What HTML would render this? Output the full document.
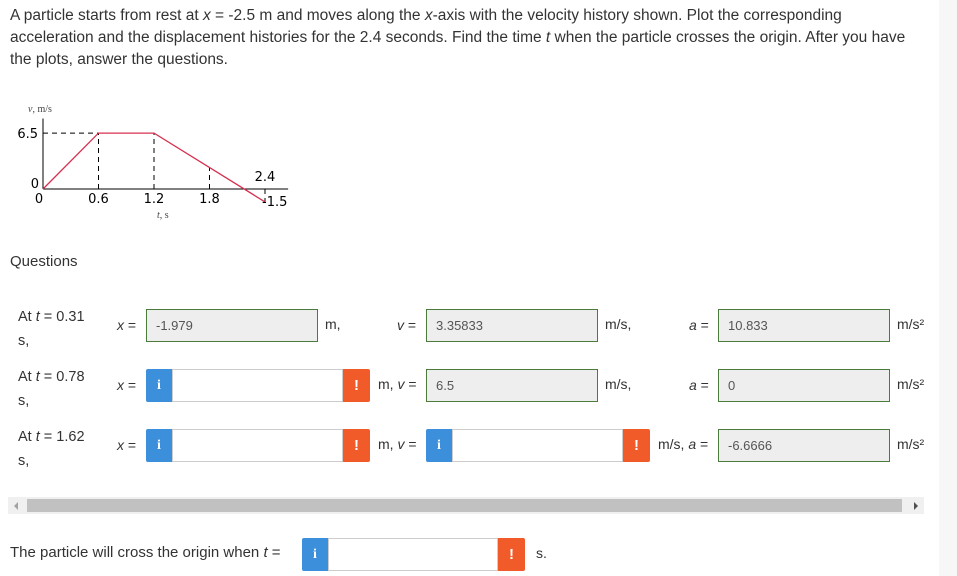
<!DOCTYPE html>
<html><head><meta charset="utf-8"><style>
body{margin:0;width:957px;height:576px;background:#fff;font-family:"Liberation Sans",sans-serif;color:#333;position:relative;overflow:hidden}
.a{position:absolute;white-space:nowrap}
.p{font-size:15.5px;left:10px;width:929px;line-height:22px;top:5px}
.box{position:absolute;height:31px;border:1px solid #4a7a3c;background:#eee;font-size:13px;color:#555;line-height:31px;padding-left:9px;box-sizing:content-box}
.inp{position:absolute;height:31px;border:1px solid #ccc;background:#fff}
.info{position:absolute;width:26px;height:33px;background:#3b8fdb;color:#fff;font:bold 14px "Liberation Serif",serif;text-align:center;line-height:33px;border-radius:2px 0 0 2px}
.warn{position:absolute;width:27px;height:33px;background:#f15a29;color:#fff;font:bold 15px "Liberation Sans",sans-serif;text-align:center;line-height:33px;border-radius:0 2px 2px 0}
.l{font-size:14px;color:#333}
i{font-style:italic}
</style></head><body>
<div class="a p">A particle starts from rest at <i>x</i> = -2.5 m and moves along the <i>x</i>-axis with the velocity history shown. Plot the corresponding<br>acceleration and the displacement histories for the 2.4 seconds. Find the time <i>t</i> when the particle crosses the origin. After you have<br>the plots, answer the questions.</div>
<div class="a" style="left:939px;top:0;width:18px;height:576px;background:#f7f7f7"></div>

<svg class="a" style="left:0;top:100px" width="320" height="130">
<g id="chart"></g>
</svg>
<script>
const tVals=[0,0.6,1.2,2.4];
const vVals=[0,6.5,6.5,-1.5];
const xTicks=[0,0.6,1.2,1.8,2.4];
const xTickLabels=["0","0.6","1.2","1.8","2.4"];
const ns="http://www.w3.org/2000/svg";
const X=t=>43+t*92.5, Y=v=>89-v*8.6;
const g=document.getElementById('chart');
function mk(tag,at,txt){const e=document.createElementNS(ns,tag);for(const k in at)e.setAttribute(k,at[k]);if(txt!=null)e.textContent=txt;g.appendChild(e);return e;}
let e;
e=mk('line',{x1:X(0),y1:Y(0),x2:X(2.65),y2:Y(0),stroke:'#000','stroke-width':1});


e=mk('line',{x1:X(0),y1:Y(0),x2:X(0),y2:Y(8.2),stroke:'#000','stroke-width':1});


e=mk('line',{x1:X(0),y1:Y(6.5),x2:X(0.6),y2:Y(6.5),stroke:'#000','stroke-dasharray':'5,4'});


[0.6,1.2].forEach(t=>{const k=tVals.indexOf(t);e=mk('line',{x1:X(t),y1:Y(0),x2:X(t),y2:Y(vVals[k]),stroke:'#000','stroke-dasharray':'5,4'});

});
const v18=vVals[2]+(vVals[3]-vVals[2])*(1.8-1.2)/(2.4-1.2);
e=mk('line',{x1:X(1.8),y1:Y(0),x2:X(1.8),y2:Y(v18),stroke:'#000','stroke-dasharray':'5,4'});


e=mk('line',{x1:X(2.4),y1:Y(0),x2:X(2.4),y2:Y(vVals[3]),stroke:'#000','stroke-dasharray':'5,4'});


e=mk('polyline',{points:tVals.map((t,i)=>X(t)+','+Y(vVals[i])).join(' '),fill:'none',stroke:'#d6304f','stroke-width':1.3});


xTicks.forEach((t,i)=>{if(t===2.4){e=mk('text',{x:X(t),y:Y(0)-8,'font-size':13,'text-anchor':'middle','font-family':'DejaVu Sans'},xTickLabels[i]);}else{e=mk('text',{x:X(t)+(t===0?-4:0),y:Y(0)+14,'font-size':13,'text-anchor':'middle','font-family':'DejaVu Sans'},xTickLabels[i]);}

});
e=mk('text',{x:X(2.4)-3,y:Y(vVals[3])+4,'font-size':13,'font-family':'DejaVu Sans'},'-1.5');


e=mk('text',{x:38,y:Y(6.5)+5,'font-size':13,'text-anchor':'end','font-family':'DejaVu Sans'},'6.5');


e=mk('text',{x:39,y:Y(0)-1,'font-size':13,'text-anchor':'end','font-family':'DejaVu Sans'},'0');


e=mk('text',{x:28,y:12,'font-size':10,'font-family':'Liberation Serif','fill':'#444'},'');
e.innerHTML='<tspan font-style="italic">v</tspan>, m/s';


e=mk('text',{x:157,y:118,'font-size':10,'font-family':'Liberation Serif','fill':'#444'},'');
e.innerHTML='<tspan font-style="italic">t</tspan>, s';


</script>

<div class="a" style="left:10px;top:253px;font-size:15px">Questions</div>

<div class="a l" style="left:18px;top:305px;font-size:14.5px;line-height:24px;white-space:normal;width:80px">At <i>t</i> = 0.31 s,</div>
<div class="a l" style="left:117px;top:317px"><i>x</i> =</div>
<div class="box" style="left:146px;top:309px;width:161px">-1.979</div>
<div class="a l" style="left:325px;top:316px">m,</div>
<div class="a l" style="left:397px;top:317px"><i>v</i> =</div>
<div class="box" style="left:426px;top:309px;width:161px">3.35833</div>
<div class="a l" style="left:605px;top:316px">m/s,</div>
<div class="a l" style="left:689px;top:317px"><i>a</i> =</div>
<div class="box" style="left:718px;top:309px;width:161px">10.833</div>
<div class="a l" style="left:897px;top:316px;width:28px;overflow:hidden">m/s²</div>

<div class="a l" style="left:18px;top:365px;font-size:14.5px;line-height:24px;white-space:normal;width:80px">At <i>t</i> = 0.78 s,</div>
<div class="a l" style="left:117px;top:377px"><i>x</i> =</div>
<div class="info" style="left:146px;top:369px">i</div>
<div class="inp" style="left:172px;top:369px;width:169px"></div>
<div class="warn" style="left:343px;top:369px">!</div>
<div class="a l" style="left:378px;top:376px">m, <i>v</i> =</div>
<div class="box" style="left:426px;top:369px;width:161px">6.5</div>
<div class="a l" style="left:605px;top:376px">m/s,</div>
<div class="a l" style="left:689px;top:377px"><i>a</i> =</div>
<div class="box" style="left:718px;top:369px;width:161px">0</div>
<div class="a l" style="left:897px;top:376px;width:28px;overflow:hidden">m/s²</div>

<div class="a l" style="left:18px;top:425px;font-size:14.5px;line-height:24px;white-space:normal;width:80px">At <i>t</i> = 1.62 s,</div>
<div class="a l" style="left:117px;top:437px"><i>x</i> =</div>
<div class="info" style="left:146px;top:429px">i</div>
<div class="inp" style="left:172px;top:429px;width:169px"></div>
<div class="warn" style="left:343px;top:429px">!</div>
<div class="a l" style="left:378px;top:436px">m, <i>v</i> =</div>
<div class="info" style="left:426px;top:429px">i</div>
<div class="inp" style="left:452px;top:429px;width:169px"></div>
<div class="warn" style="left:623px;top:429px">!</div>
<div class="a l" style="left:658px;top:436px">m/s, <i>a</i> =</div>
<div class="box" style="left:718px;top:429px;width:161px">-6.6666</div>
<div class="a l" style="left:897px;top:436px;width:28px;overflow:hidden">m/s²</div>

<div class="a" style="left:8px;top:497px;width:916px;height:17px;background:#f0f0f0">
<div class="a" style="left:19px;top:2px;width:875px;height:13px;background:#c1c1c1"></div>
<div class="a" style="left:6px;top:5px;width:0;height:0;border-top:4px solid transparent;border-bottom:4px solid transparent;border-right:4px solid #a3a3a3"></div>
<div class="a" style="left:906px;top:5px;width:0;height:0;border-top:4px solid transparent;border-bottom:4px solid transparent;border-left:4px solid #505050"></div>
</div>

<div class="a" style="left:10px;top:544px;font-size:15px">The particle will cross the origin when <i>t</i> =</div>
<div class="info" style="left:302px;top:538px">i</div>
<div class="inp" style="left:328px;top:538px;width:168px"></div>
<div class="warn" style="left:498px;top:538px">!</div>
<div class="a l" style="left:536px;top:545px">s.</div>
</body></html>
